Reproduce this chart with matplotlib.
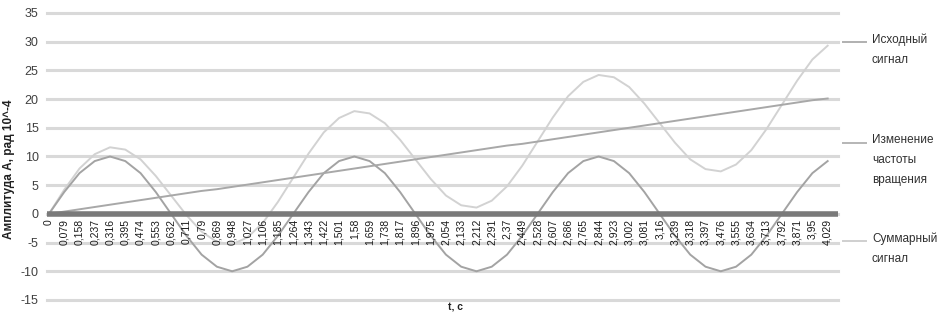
import matplotlib
matplotlib.use('Agg')
import matplotlib.pyplot as plt

plt.rcParams['font.family'] = ['Liberation Sans', 'DejaVu Sans']
plt.rcParams['axes.unicode_minus'] = False

t_labels = ['0', '0,079', '0,158', '0,237', '0,316', '0,395', '0,474', '0,553',
            '0,632', '0,711', '0,79', '0,869', '0,948', '1,027', '1,106', '1,185',
            '1,264', '1,343', '1,422', '1,501', '1,58', '1,659', '1,738', '1,817',
            '1,896', '1,975', '2,054', '2,133', '2,212', '2,291', '2,37', '2,449',
            '2,528', '2,607', '2,686', '2,765', '2,844', '2,923', '3,002', '3,081',
            '3,16', '3,239', '3,318', '3,397', '3,476', '3,555', '3,634', '3,713',
            '3,792', '3,871', '3,95', '4,029']

# исходный сигнал
signal = [0, 3.8, 7.1, 9.2, 10, 9.2, 7.1, 3.8, 0, -3.8, -7.1, -9.2, -10, -9.2, -7.1, -3.8,
          0, 3.8, 7.1, 9.2, 10, 9.2, 7.1, 3.8, 0, -3.8, -7.1, -9.2, -10, -9.2, -7.1, -3.8,
          0, 3.8, 7.1, 9.2, 10, 9.2, 7.1, 3.8, 0, -3.8, -7.1, -9.2, -10, -9.2, -7.1, -3.8,
          0, 3.8, 7.1, 9.2]

# изменение частоты вращения
drift = [0.0, 0.4, 0.8, 1.2, 1.6, 2.0, 2.4, 2.8, 3.2, 3.6, 4.0, 4.3, 4.7, 5.1, 5.5, 5.9,
         6.3, 6.7, 7.1, 7.5, 7.9, 8.3, 8.7, 9.1, 9.5, 9.9, 10.3, 10.7, 11.1, 11.5, 11.9, 12.2,
         12.6, 13.0, 13.4, 13.8, 14.2, 14.6, 15.0, 15.4, 15.8, 16.2, 16.6, 17.0, 17.4, 17.8,
         18.2, 18.6, 19.0, 19.4, 19.8, 20.1]

# суммарный сигнал
total = [0, 4.2, 7.9, 10.4, 11.6, 11.2, 9.5, 6.6, 3.2, -0.2, -3.1, -4.9, -5.3, -4.1, -1.6, 2.1,
         6.3, 10.5, 14.2, 16.7, 17.9, 17.5, 15.8, 12.9, 9.5, 6.1, 3.2, 1.5, 1.1, 2.3, 4.8, 8.4,
         12.6, 16.8, 20.5, 23.0, 24.2, 23.8, 22.1, 19.2, 15.8, 12.4, 9.5, 7.8, 7.4, 8.6, 11.1, 14.8,
         19.0, 23.2, 26.9, 29.3]

x = list(range(len(t_labels)))

fig = plt.figure(figsize=(9.39, 3.2), dpi=100)
ax = fig.add_axes([0.050, 0.0625, 0.842, 0.897])

for y in range(-15, 40, 5):
    ax.axhline(y, color='#d9d9d9', lw=2.2, zorder=0, clip_on=False)

ax.plot(x, total, color='#d2d2d2', lw=1.4, zorder=2)
ax.plot(x, signal, color='#a3a3a3', lw=1.4, zorder=3)
ax.plot(x, drift, color='#a8a8a8', lw=1.4, zorder=3)
ax.axhline(0, color='#7a7a7a', lw=4, zorder=4)

ax.set_xlim(-0.13, 51.65)
ax.set_ylim(-15, 35)
ax.set_yticks(range(-15, 40, 5))
ax.tick_params(axis='y', length=0, labelsize=9, colors='#404040', pad=6)
ax.set_xticks([])
for s in ax.spines.values():
    s.set_visible(False)

for i, lab in zip(x, t_labels):
    ax.text(i, -0.9, lab, rotation=90, ha='center', va='top', fontsize=7.5,
            color='#1a1a1a', zorder=5)

fig.text(0.010, 0.47, 'Амплитуда А, рад 10^-4', rotation=90, ha='center', va='center',
         fontsize=8.5, fontweight='bold', color='#202020')
fig.text(0.485, 0.04, 't, c', ha='center', va='center', fontsize=7.5,
         fontweight='bold', color='#202020')

legend = [('Исходный\nсигнал', 42, '#b0b0b0'),
          ('Изменение\nчастоты\nвращения', 143, '#b5b5b5'),
          ('Суммарный\nсигнал', 241, '#cfcfcf')]
for text, ypix, col in legend:
    yf = 1 - ypix / 320
    fig.add_artist(plt.Line2D([843 / 939, 866 / 939], [yf, yf], color=col, lw=1.4))
    fig.text(872 / 939, yf + 0.028, text, ha='left', va='top', fontsize=8.5,
             color='#303030', linespacing=1.9)

fig.savefig('out.png', dpi=100)
